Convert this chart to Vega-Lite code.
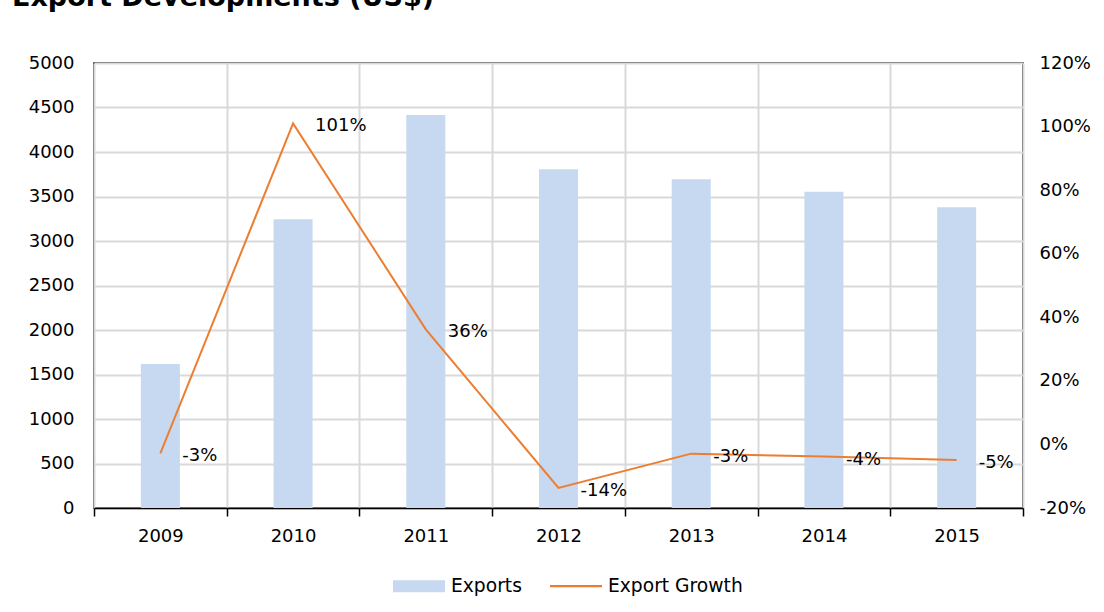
{
  "$schema": "https://vega.github.io/schema/vega-lite/v6.json",
  "width": 929,
  "height": 445,
  "autosize": {"type": "none"},
  "padding": {"left": 94, "top": 63, "right": 81, "bottom": 104},
  "background": "white",
  "title": {
    "text": "Export Developments (US$)",
    "anchor": "start",
    "frame": "group",
    "dx": -82,
    "offset": 42,
    "font": "DejaVu Sans",
    "fontSize": 27,
    "fontWeight": "bold",
    "color": "black"
  },
  "data": {
    "values": [
      {"year": "2009", "exports": 1618, "growth": -0.028, "growthLabel": "-3%"},
      {"year": "2010", "exports": 3244, "growth": 1.01, "growthLabel": "101%"},
      {"year": "2011", "exports": 4416, "growth": 0.362, "growthLabel": "36%"},
      {"year": "2012", "exports": 3805, "growth": -0.137, "growthLabel": "-14%"},
      {"year": "2013", "exports": 3693, "growth": -0.029, "growthLabel": "-3%"},
      {"year": "2014", "exports": 3554, "growth": -0.038, "growthLabel": "-4%"},
      {"year": "2015", "exports": 3379, "growth": -0.049, "growthLabel": "-5%"}
    ]
  },
  "encoding": {
    "x": {
      "field": "year",
      "type": "ordinal",
      "scale": {"paddingInner": 0, "paddingOuter": 0},
      "axis": {
        "title": null,
        "labelAngle": 0,
        "tickBand": "extent",
        "grid": true,
        "gridColor": "#d9d9d9",
        "gridWidth": 2,
        "domain": true,
        "domainColor": "black",
        "domainWidth": 1.5,
        "ticks": true,
        "tickColor": "black",
        "tickSize": 8,
        "tickWidth": 1.5,
        "labelFont": "DejaVu Sans",
        "labelFontSize": 18,
        "labelColor": "black",
        "labelPadding": 11
      }
    }
  },
  "layer": [
    {
      "mark": {"type": "bar", "width": {"band": 0.294}},
      "encoding": {
        "y": {
          "field": "exports",
          "type": "quantitative",
          "scale": {"domain": [0, 5000], "nice": false},
          "axis": {
            "title": null,
            "orient": "left",
            "values": [0, 500, 1000, 1500, 2000, 2500, 3000, 3500, 4000, 4500, 5000],
            "format": "d",
            "grid": true,
            "gridColor": "#d9d9d9",
            "gridWidth": 2,
            "domain": false,
            "ticks": false,
            "tickSize": 0,
            "labelPadding": 20,
            "labelFlush": false,
            "labelFont": "DejaVu Sans",
            "labelFontSize": 18,
            "labelColor": "black"
          }
        },
        "color": {
          "datum": "Exports",
          "scale": {"domain": ["Exports", "Export Growth"], "range": ["#c6d9f0", "#ed7d31"]},
          "legend": {
            "title": null,
            "orient": "none",
            "direction": "horizontal",
            "legendX": 299,
            "legendY": 497,
            "symbolSize": 2704,
            "labelFont": "DejaVu Sans",
            "labelFontSize": 18.7,
            "labelColor": "black",
            "labelOffset": 6,
            "columnPadding": 28,
            "encode": {
              "symbols": {
                "update": {
                  "shape": {"signal": "datum.value === 'Exports' ? 'M-1,-0.23H1V0.23H-1Z' : 'M-1,-0.04H1V0.04H-1Z'"},
                  "fill": {"signal": "datum.value === 'Exports' ? '#c6d9f0' : '#ed7d31'"},
                  "stroke": {"value": "transparent"},
                  "strokeWidth": {"value": 0},
                  "opacity": {"value": 1},
                  "fillOpacity": {"value": 1}
                }
              }
            }
          }
        }
      }
    },
    {
      "mark": {"type": "line", "strokeWidth": 2},
      "encoding": {
        "y": {
          "field": "growth",
          "type": "quantitative",
          "scale": {"domain": [-0.2, 1.2], "nice": false, "zero": false},
          "axis": {
            "title": null,
            "orient": "right",
            "values": [-0.2, 0, 0.2, 0.4, 0.6, 0.8, 1.0, 1.2],
            "format": ".0%",
            "labelExpr": "replace(datum.label, '\u2212', '-')",
            "grid": false,
            "domain": false,
            "ticks": false,
            "tickSize": 0,
            "labelPadding": 16,
            "labelFlush": false,
            "labelFont": "DejaVu Sans",
            "labelFontSize": 18,
            "labelColor": "black"
          }
        },
        "color": {
          "datum": "Export Growth",
          "legend": {
            "title": null,
            "orient": "none",
            "direction": "horizontal",
            "legendX": 299,
            "legendY": 497,
            "symbolSize": 2704,
            "labelFont": "DejaVu Sans",
            "labelFontSize": 18.7,
            "labelColor": "black",
            "labelOffset": 6,
            "columnPadding": 28,
            "encode": {
              "symbols": {
                "update": {
                  "shape": {"signal": "datum.value === 'Exports' ? 'M-1,-0.23H1V0.23H-1Z' : 'M-1,-0.04H1V0.04H-1Z'"},
                  "fill": {"signal": "datum.value === 'Exports' ? '#c6d9f0' : '#ed7d31'"},
                  "stroke": {"value": "transparent"},
                  "strokeWidth": {"value": 0},
                  "opacity": {"value": 1},
                  "fillOpacity": {"value": 1}
                }
              }
            }
          }
        }
      }
    },
    {
      "mark": {
        "type": "text",
        "align": "left",
        "baseline": "middle",
        "dx": 22,
        "dy": 3,
        "font": "DejaVu Sans",
        "fontSize": 18,
        "color": "black"
      },
      "encoding": {
        "y": {
          "field": "growth",
          "type": "quantitative",
          "scale": {"domain": [-0.2, 1.2], "nice": false, "zero": false},
          "axis": null
        },
        "text": {"field": "growthLabel"}
      }
    }
  ],
  "resolve": {"scale": {"y": "independent"}},
  "config": {
    "view": {"stroke": "black", "strokeWidth": 1.5}
  }
}
